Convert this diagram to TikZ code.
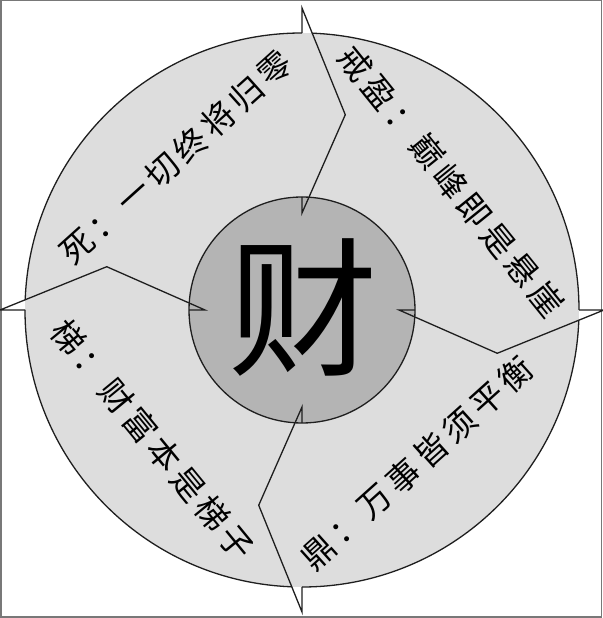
\documentclass[tikz,border=0pt]{standalone}
\usepackage{fontspec}
\newfontfamily\cjk{Noto Sans CJK SC}
\newfontfamily\cjkls[LetterSpace=15]{Noto Sans CJK SC}
\definecolor{ringgray}{RGB}{221,221,221}
\definecolor{coregray}{RGB}{180,180,180}
\definecolor{linegray}{RGB}{30,30,30}
\definecolor{framegray}{RGB}{120,120,120}
\begin{document}
\begin{tikzpicture}[x=1pt,y=1pt,
  outline/.style={draw=linegray,line width=1.3pt,line join=miter},
  seglabel/.style={font=\cjkls\fontsize{33}{33}\selectfont,inner sep=0pt,
    text height=29pt,text depth=4pt,text=black},
  bigchar/.style={font=\cjk\fontsize{150}{150}\selectfont,inner sep=0pt,
    text height=132pt,text depth=18pt,text=black}]
\useasboundingbox (0,0) rectangle (602,618);
\draw[framegray,line width=1.5pt] (0.75,0.75) rectangle (601.25,617.25);
\begin{scope}[shift={(302,308)}]
  \coordinate (C) at (0,0);
  % ring and core
  \fill[ringgray] (C) circle[radius=277];
  \fill[coregray] (C) circle[radius=113];
  \draw[outline] (C) circle[radius=113];
  % outer arcs of the four segments and chevron dividers
  \foreach \a/\n in {90/t,0/r,-90/b,180/l} {
    \coordinate (\n o) at (\a:277);
    \coordinate (\n tip) at (\a:302);
    \coordinate (\n mid) at ({\a-12.5}:200);
    \coordinate (\n in) at (\a:97);
    \coordinate (\n c) at (\a:113);
    \draw[outline] ({\a-2.1}:277) arc[start angle={\a-2.1}, end angle={\a-90}, radius=277];
    \draw[outline] (\n o) -- (\n tip) -- (\n mid) -- (\n in) -- (\n c);
  }
\end{scope}
% labels
\node[seglabel,rotate=42] (si) at (176,460.5) {死：一切终将归零};
\node[seglabel,rotate=-51] (jie) at (451,437) {戒盈：巅峰即是悬崖};
\node[seglabel,rotate=-50.6] (ti) at (152.5,178) {梯：财富本是梯子};
\node[seglabel,rotate=42] (ding) at (417,155) {鼎：万事皆须平衡};
\node[bigchar] (cai) at (303,310) {财};
\end{tikzpicture}
\end{document}
